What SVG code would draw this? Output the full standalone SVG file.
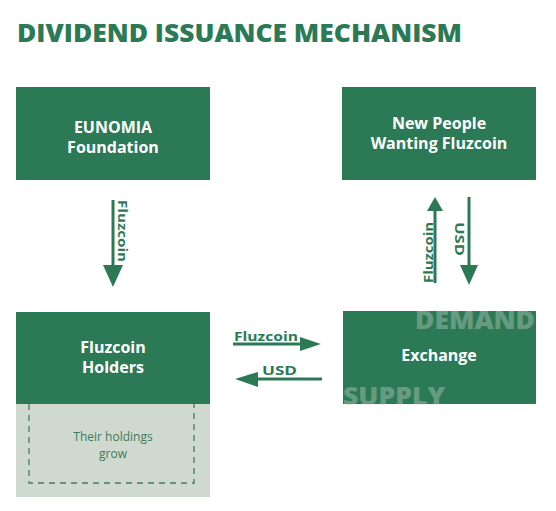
<svg xmlns="http://www.w3.org/2000/svg" width="556" height="511" viewBox="0 0 556 511">
<defs>
<style>
.box{fill:#2c7a55}
.bt{font-family:"Open Sans","Liberation Sans",sans-serif;font-weight:bold;font-size:16px;fill:#ffffff;text-anchor:middle}
.lbl{font-family:"Open Sans","Liberation Sans",sans-serif;font-weight:bold;font-size:13px;fill:#2c7a55}
.ln{stroke:#2c7a55;stroke-width:3;fill:none}
.hd{fill:#2c7a55}
.ghost{font-family:"Open Sans","Liberation Sans",sans-serif;font-weight:800;font-size:25px;fill:#c8d4cc;fill-opacity:0.4}
.sm{font-family:"Open Sans","Liberation Sans",sans-serif;font-size:12px;fill:#3f7a5c;text-anchor:middle}
</style>
</defs>
<rect width="556" height="511" fill="#ffffff"/>
<text x="17" y="42" font-family="'Open Sans','Liberation Sans',sans-serif" font-weight="800" font-size="25" fill="#2c7a55" textLength="445" lengthAdjust="spacingAndGlyphs">DIVIDEND ISSUANCE MECHANISM</text>

<g id="eunomia">
<rect class="box" x="16" y="87" width="194" height="93"/>
<text class="bt" x="113" y="133">EUNOMIA</text>
<text class="bt" x="113" y="153">Foundation</text>
</g>

<g id="newpeople">
<rect class="box" x="342" y="87" width="194" height="93"/>
<text class="bt" x="439" y="129">New People</text>
<text class="bt" x="439" y="149">Wanting Fluzcoin</text>
</g>

<g id="holders">
<rect x="16" y="404" width="194" height="93" fill="#cfd9d0"/>
<path d="M29 404 V483 H194 V404" fill="none" stroke="#4a7a62" stroke-width="1.3" stroke-dasharray="6,5"/>
<text class="sm" x="113" y="441">Their holdings</text>
<text class="sm" x="113" y="458">grow</text>
<rect class="box" x="16" y="312" width="194" height="92"/>
<text class="bt" x="113" y="353">Fluzcoin</text>
<text class="bt" x="113" y="373">Holders</text>
</g>

<g id="exchange">
<rect class="box" x="343" y="311" width="193" height="93"/>
<text class="bt" x="439" y="361">Exchange</text>
<text class="ghost" x="415" y="329" textLength="120" lengthAdjust="spacingAndGlyphs">DEMAND</text>
<text class="ghost" x="343" y="405" textLength="102" lengthAdjust="spacingAndGlyphs">SUPPLY</text>
</g>

<g id="connectors">
<line class="ln" x1="113" y1="200" x2="113" y2="268"/>
<polygon class="hd" points="103,265 123,265 113,287"/>
<text class="lbl" transform="translate(118,200) rotate(90)" textLength="62" lengthAdjust="spacingAndGlyphs">Fluzcoin</text>

<line class="ln" x1="435" y1="283" x2="435" y2="208"/>
<polygon class="hd" points="427,211 443,211 435,197"/>
<text class="lbl" transform="translate(433,283) rotate(-90)" textLength="61" lengthAdjust="spacingAndGlyphs">Fluzcoin</text>

<line class="ln" x1="469" y1="197" x2="469" y2="268"/>
<polygon class="hd" points="460,265 478,265 469,285"/>
<text class="lbl" transform="translate(455,222) rotate(90)" font-size="14" textLength="34" lengthAdjust="spacingAndGlyphs">USD</text>

<line class="ln" x1="233" y1="344" x2="303" y2="344"/>
<polygon class="hd" points="300,337 300,351 321,344"/>
<text class="lbl" x="234" y="341" textLength="64" lengthAdjust="spacingAndGlyphs">Fluzcoin</text>

<line class="ln" x1="255" y1="379" x2="322" y2="379"/>
<polygon class="hd" points="258,372 258,387 235,379"/>
<text class="lbl" x="262" y="375" font-size="14" textLength="35" lengthAdjust="spacingAndGlyphs">USD</text>
</g>
</svg>
